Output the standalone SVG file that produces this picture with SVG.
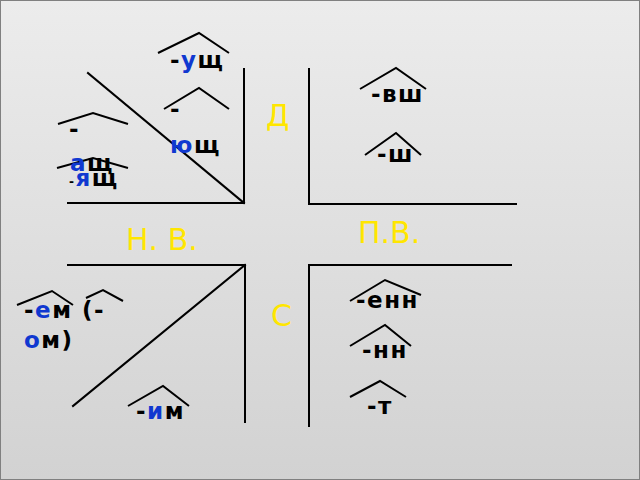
<svg xmlns="http://www.w3.org/2000/svg" width="640" height="480" viewBox="0 0 640 480">
<defs>
<linearGradient id="bg" x1="0" y1="0" x2="0" y2="1">
<stop offset="0" stop-color="#ececec"/>
<stop offset="1" stop-color="#d2d2d2"/>
</linearGradient>
</defs>
<style>
.ln{stroke:#000;stroke-width:2;fill:none;stroke-linecap:square}
.hat{stroke:#000;stroke-width:2;fill:none}
.t{font-family:"DejaVu Sans",Verdana,sans-serif;font-weight:bold;font-size:23px;fill:#000;letter-spacing:1.5px}
.b{fill:#1038d0}
.y{font-family:"DejaVu Sans",Verdana,sans-serif;font-size:30px;fill:#ffe600}
</style>
<rect x="0.5" y="0.5" width="639" height="479" fill="url(#bg)" stroke="#808080" stroke-width="1"/>
<g id="connectors">
<polyline class="ln" points="244,69 244,203 68,203"/>
<line class="ln" x1="88" y1="73" x2="244" y2="203"/>
<polyline class="ln" points="309,69 309,204 516,204"/>
<polyline class="ln" points="68,265 245,265 245,422"/>
<line class="ln" x1="245" y1="265" x2="73" y2="406"/>
<polyline class="ln" points="511,265 309,265 309,426"/>
</g>
<g id="label-D"><text class="y" x="266" y="126">Д</text></g>
<g id="label-PV"><text class="y" x="358" y="243" font-size="29">П.В.</text></g>
<g id="label-NV"><text class="y" x="126" y="250">Н. В.</text></g>
<g id="label-S"><text class="y" x="271" y="326">С</text></g>
<g id="n-ush">
<polyline class="hat" points="158,53 199,33 229,53"/>
<text class="t" x="170" y="68">-<tspan class="b">у</tspan>щ</text>
</g>
<g id="n-yush">
<polyline class="hat" points="164,109 199,88 229,109"/>
<text class="t" x="170" y="117">-</text>
<text class="t" x="170" y="153"><tspan class="b">ю</tspan>щ</text>
</g>
<g id="n-ash">
<polyline class="hat" points="58,124 93,113 128,124"/>
<text class="t" x="69" y="137">-</text>
<polyline class="hat" points="57,168 93,158 128,168"/>
<text class="t" x="70" y="171"><tspan class="b">а</tspan>щ</text>
<text class="t" x="69" y="186"><tspan font-size="12">-</tspan><tspan class="b">я</tspan>щ</text>
</g>
<g id="n-vsh">
<polyline class="hat" points="360,89 396,68 426,89"/>
<text class="t" x="371" y="102">-вш</text>
</g>
<g id="n-sh">
<polyline class="hat" points="365,155 396,133 421,155"/>
<text class="t" x="377" y="162">-ш</text>
</g>
<g id="n-em">
<polyline class="hat" points="17,305 52,291 73,305"/>
<polyline class="hat" points="86,298 103,290 123,301"/>
<text class="t" x="24" y="318">-<tspan class="b">е</tspan>м (-</text>
<text class="t" x="24" y="348"><tspan class="b">о</tspan>м)</text>
</g>
<g id="n-im">
<polyline class="hat" points="128,406 163,386 189,406"/>
<text class="t" x="136" y="419">-<tspan class="b">и</tspan>м</text>
</g>
<g id="n-enn">
<polyline class="hat" points="350,301 385,280 421,295"/>
<text class="t" x="356" y="308">-енн</text>
</g>
<g id="n-nn">
<polyline class="hat" points="350,346 385,325 411,346"/>
<text class="t" x="362" y="358">-нн</text>
</g>
<g id="n-t">
<polyline class="hat" points="350,397 380,381 406,397"/>
<text class="t" x="367" y="414">-т</text>
</g>
</svg>
